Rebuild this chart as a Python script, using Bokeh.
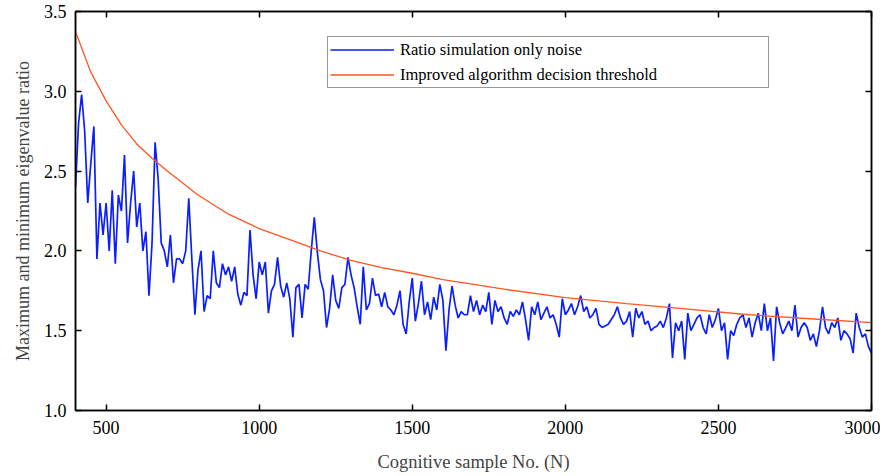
from bokeh.plotting import figure
from bokeh.models import Range1d, LinearAxis, FixedTicker, NumeralTickFormatter, Legend, LegendItem
from bokeh.embed import file_html
from bokeh.resources import INLINE

# ---- data ----
sample_no = list(range(400, 3001, 10))
ratio_noise = [
    2.40, 2.80, 2.98, 2.75, 2.30, 2.55, 2.78, 1.95, 2.30, 2.10,
    2.30, 2.00, 2.38, 1.92, 2.35, 2.25, 2.60, 2.05, 2.30, 2.50,
    2.15, 2.30, 2.00, 2.12, 1.72, 2.05, 2.68, 2.45, 2.05, 2.00,
    1.90, 2.10, 1.80, 1.95, 1.95, 1.92, 2.00, 2.33, 1.95, 1.60,
    1.88, 2.00, 1.62, 1.72, 1.70, 2.00, 1.80, 1.77, 1.92, 1.85,
    1.90, 1.81, 1.90, 1.73, 1.66, 1.74, 1.72, 2.13, 1.85, 1.70,
    1.93, 1.85, 1.93, 1.61, 1.75, 1.79, 1.96, 1.78, 1.71, 1.80,
    1.70, 1.46, 1.77, 1.79, 1.58, 1.79, 1.76, 2.00, 2.21, 1.99,
    1.82, 1.75, 1.52, 1.64, 1.85, 1.69, 1.64, 1.77, 1.79, 1.96,
    1.85, 1.77, 1.65, 1.54, 1.90, 1.63, 1.67, 1.83, 1.72, 1.73,
    1.65, 1.74, 1.65, 1.63, 1.60, 1.66, 1.75, 1.54, 1.48, 1.68,
    1.83, 1.56, 1.67, 1.81, 1.60, 1.68, 1.57, 1.71, 1.63, 1.79,
    1.69, 1.375, 1.63, 1.78, 1.66, 1.58, 1.62, 1.60, 1.60, 1.72,
    1.62, 1.69, 1.60, 1.66, 1.62, 1.74, 1.54, 1.69, 1.62, 1.65,
    1.58, 1.54, 1.62, 1.59, 1.63, 1.60, 1.68, 1.57, 1.44, 1.65,
    1.60, 1.68, 1.57, 1.61, 1.65, 1.58, 1.60, 1.54, 1.46, 1.70,
    1.60, 1.63, 1.67, 1.60, 1.65, 1.72, 1.62, 1.65, 1.58, 1.60,
    1.64, 1.54, 1.52, 1.53, 1.54, 1.57, 1.60, 1.65, 1.58, 1.54,
    1.56, 1.62, 1.46, 1.64, 1.58, 1.62, 1.54, 1.56, 1.50, 1.52,
    1.53, 1.56, 1.52, 1.58, 1.67, 1.33, 1.55, 1.50, 1.56, 1.32,
    1.61, 1.50, 1.54, 1.58, 1.60, 1.52, 1.48, 1.60, 1.52, 1.57,
    1.64, 1.50, 1.55, 1.32, 1.50, 1.47, 1.54, 1.58, 1.60, 1.52,
    1.58, 1.46, 1.55, 1.61, 1.50, 1.67, 1.50, 1.58, 1.31, 1.65,
    1.55, 1.48, 1.52, 1.56, 1.50, 1.66, 1.46, 1.52, 1.55, 1.52,
    1.44, 1.48, 1.40, 1.50, 1.65, 1.52, 1.48, 1.55, 1.52, 1.58,
    1.44, 1.50, 1.48, 1.45, 1.36, 1.61, 1.52, 1.46, 1.48, 1.40,
    1.36,
]
threshold_no = [400, 450, 500, 550, 600, 650, 700, 800, 900, 1000, 1100, 1200,
                1300, 1400, 1500, 1600, 1800, 2000, 2200, 2400, 2600, 2800, 3000]
threshold = [3.375, 3.12, 2.94, 2.79, 2.67, 2.58, 2.50, 2.35, 2.23, 2.14, 2.07, 2.00,
             1.94, 1.895, 1.86, 1.82, 1.76, 1.707, 1.67, 1.635, 1.60, 1.575, 1.55]
x_ticks = [500, 1000, 1500, 2000, 2500, 3000]
y_ticks = [1.0, 1.5, 2.0, 2.5, 3.0, 3.5]
series_labels = ["Ratio simulation only noise", "Improved algorithm decision threshold"]
x_title = "Cognitive sample No. (N)"
y_title = "Maximum and minimum eigenvalue ratio"

assert len(sample_no) == len(ratio_noise)

FONT = "Liberation Serif"

p = figure(width=880, height=474, x_range=Range1d(400, 3000), y_range=Range1d(1.0, 3.5),
           output_backend="svg", toolbar_location=None,
           min_border_left=75, min_border_right=9, min_border_top=11, min_border_bottom=64)
p.grid.visible = False
p.outline_line_color = "black"
p.outline_line_width = 1.5
p.background_fill_color = "white"
p.border_fill_color = "white"

r1 = p.line(sample_no, ratio_noise, line_color="#0a1eff", line_width=1.7)
r2 = p.line(threshold_no, threshold, line_color="#ff5522", line_width=1.3)

def style_axis(ax, show_labels=True, ticks=None):
    ax.major_tick_in = 6
    ax.major_tick_out = 0
    ax.minor_tick_in = 0
    ax.minor_tick_out = 0
    ax.axis_line_color = "black"
    ax.axis_line_width = 1.5
    ax.major_tick_line_color = "black"
    ax.major_tick_line_width = 1.5
    ax.major_label_text_font = FONT
    ax.major_label_text_color = "black"
    ax.major_label_text_font_size = "18px"
    if not show_labels:
        ax.major_label_overrides = {t: "" for t in ticks}
        ax.major_label_standoff = 0

xa = p.xaxis[0]
xa.ticker = FixedTicker(ticks=x_ticks)
style_axis(xa)
xa.major_label_standoff = 10
xa.axis_label = x_title
xa.axis_label_text_font = FONT
xa.axis_label_text_font_style = "normal"
xa.axis_label_text_font_size = "18.5px"
xa.axis_label_standoff = 15

ya = p.yaxis[0]
ya.ticker = FixedTicker(ticks=y_ticks)
ya.formatter = NumeralTickFormatter(format="0.0")
style_axis(ya)
ya.major_label_standoff = 9
ya.axis_label = y_title
ya.axis_label_text_font = FONT
ya.axis_label_text_font_style = "normal"
ya.axis_label_text_font_size = "18px"
ya.axis_label_standoff = 8

top = LinearAxis(ticker=FixedTicker(ticks=x_ticks))
style_axis(top, show_labels=False, ticks=x_ticks)
p.add_layout(top, "above")
right = LinearAxis(ticker=FixedTicker(ticks=y_ticks))
style_axis(right, show_labels=False, ticks=y_ticks)
p.add_layout(right, "right")

legend = Legend(items=[LegendItem(label=series_labels[0], renderers=[r1]),
                       LegendItem(label=series_labels[1], renderers=[r2])],
                location=(252, 322))
legend.label_text_font = FONT
legend.label_text_font_size = "16.5px"
legend.label_text_color = "black"
legend.label_width = 366
legend.label_height = 21
legend.glyph_width = 64
legend.glyph_height = 19
legend.label_standoff = 6
legend.spacing = 4
legend.padding = 2
legend.margin = 0
legend.border_line_color = "#333333"
legend.border_line_width = 1.5
legend.background_fill_alpha = 1.0
p.add_layout(legend)

open("out.html", "w").write(file_html(p, INLINE))
